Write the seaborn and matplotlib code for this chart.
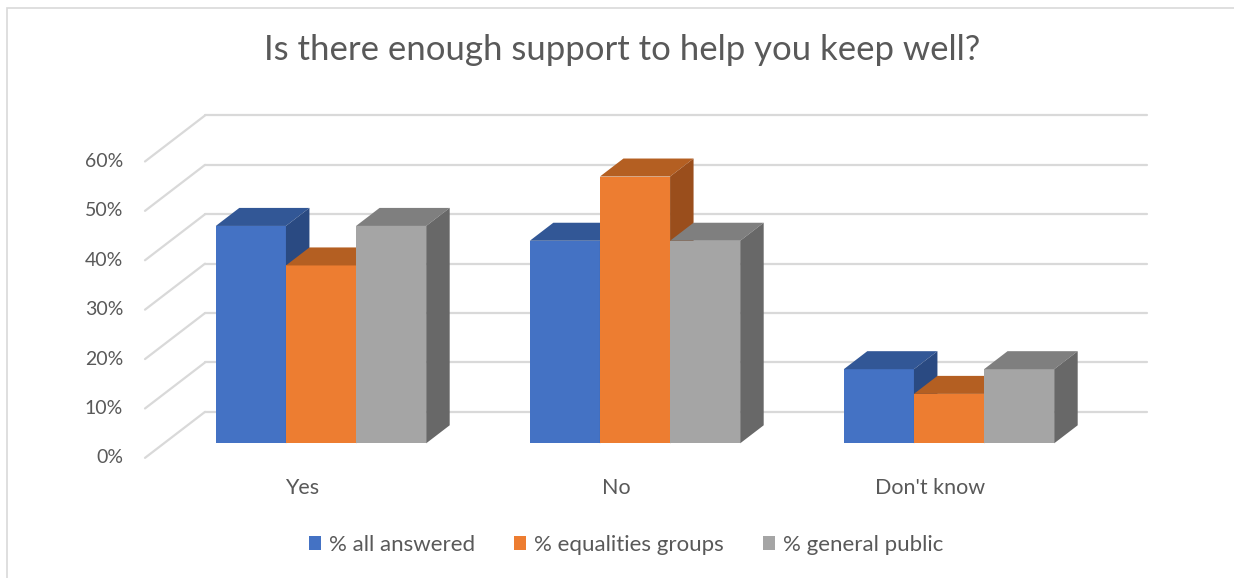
import matplotlib
matplotlib.use("Agg")
import matplotlib.pyplot as plt
import seaborn as sns
import pandas as pd
from matplotlib.patches import Polygon, Rectangle

# data
answers = ["Yes", "No", "Don't know"]
groups = ["% all answered", "% equalities groups", "% general public"]
all_answered = [44, 41, 15]
equalities_groups = [36, 54, 10]
general_public = [44, 41, 15]
y_ticks = [0, 10, 20, 30, 40, 50, 60]

front_colors = ["#4472C4", "#ED7D31", "#A5A5A5"]
top_colors = ["#325796", "#B45F22", "#7F7F7F"]
side_colors = ["#2A4A82", "#9A4E1C", "#686868"]
text_color = "#595959"
grid_color = "#D9D9D9"

df = pd.DataFrame({
    "answer": answers * 3,
    "group": [g for g in groups for _ in answers],
    "value": all_answered + equalities_groups + general_public,
})

W, H = 1234, 578
sns.set_theme(style="white")
plt.rcParams["font.family"] = ["Lato", "DejaVu Sans"]

fig = plt.figure(figsize=(W / 100, H / 100), dpi=100)
ax = fig.add_axes([0, 0, 1, 1])

# pixel layout of the bar plane: category 0 centre at x=321, 0% at y=443, 314 px per category, 4.94 px per %
cx0, cstep = 321, 314
y0, ystep = 443.3, 4.94
ax.set_xlim(-cx0 / cstep, (W - cx0) / cstep)
ax.set_ylim((y0 - H) / ystep, y0 / ystep)

# oblique depth: front plane -> back wall
DX, DY = 60 / cstep, 46 / ystep
t_bar0, t_bar1 = 19 / 60, 42.5 / 60


def shift(t):
    return (t - t_bar0) * DX, (t - t_bar0) * DY


fx, fy = shift(0)
bx, by = shift(1)
left, right = -0.5, len(answers) - 0.5

# back wall gridlines and the diagonals on the left wall
for v in y_ticks:
    ax.plot([left + bx, right + bx], [v + by, v + by], color=grid_color, lw=1.6, zorder=1)
    ax.plot([left + fx, left + bx], [v + fy, v + by], color=grid_color, lw=1.6, zorder=1)
    ax.text(left + fx - 22 / cstep, v + fy, f"{v}%", ha="right", va="center",
            fontsize=14, color=text_color)

for i, a in enumerate(answers):
    ax.text(i + fx, fy - 30 / ystep, a, ha="center", va="center", fontsize=15.5, color=text_color)

sns.barplot(data=df, x="answer", y="value", hue="group", palette=front_colors,
            width=0.67, saturation=1, linewidth=0, ax=ax)

dx, dy = (t_bar1 - t_bar0) * DX, (t_bar1 - t_bar0) * DY
bars = sorted(ax.patches, key=lambda p: p.get_x())
for k, p in enumerate(bars):
    x, w, h = p.get_x(), p.get_width(), p.get_height()
    hexcol = matplotlib.colors.to_hex(p.get_facecolor()).upper()
    ci = front_colors.index(hexcol) if hexcol in front_colors else 0
    z = 3 + k
    p.set_zorder(z)
    p.set_edgecolor("none")
    top = Polygon([(x, h), (x + w, h), (x + w + dx, h + dy), (x + dx, h + dy)],
                  closed=True, facecolor=top_colors[ci], edgecolor="none", zorder=z)
    side = Polygon([(x + w, 0), (x + w, h), (x + w + dx, h + dy), (x + w + dx, dy)],
                   closed=True, facecolor=side_colors[ci], edgecolor="none", zorder=z)
    ax.add_patch(top)
    ax.add_patch(side)

ax.set_xlim(-cx0 / cstep, (W - cx0) / cstep)
ax.set_ylim((y0 - H) / ystep, y0 / ystep)
ax.axis("off")

sns.move_legend(ax, "center", bbox_to_anchor=(626 / W, 1 - 545 / H), ncol=3, frameon=False,
                title=None, fontsize=16, handlelength=0.55, handleheight=0.55,
                handletextpad=0.35, columnspacing=1.75, labelcolor=text_color)

fig.text(622 / W, 1 - 50 / H, "Is there enough support to help you keep well?",
         ha="center", va="center", fontsize=25, color=text_color)

fig.patches.append(Rectangle((7 / W, -0.1), 1.2, 1 - 8 / H + 0.1, transform=fig.transFigure,
                             fill=False, edgecolor="#D9D9D9", lw=1.2))

fig.savefig("out.png", dpi=100)
